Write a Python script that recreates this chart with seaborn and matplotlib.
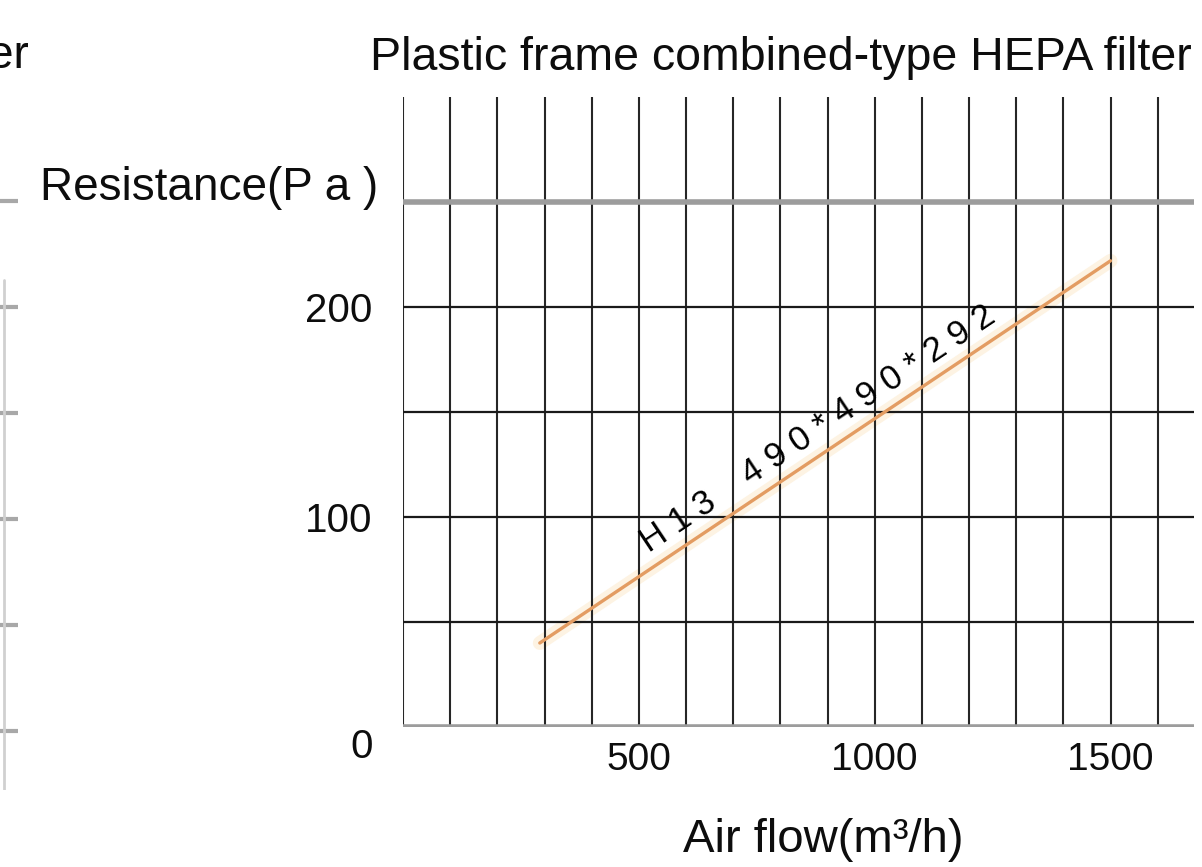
import matplotlib

matplotlib.use("Agg")

import matplotlib.pyplot as plt
import matplotlib.transforms as mtransforms
import pandas as pd
import seaborn as sns

# values
air_flow = [290, 1500]        # m3/h
resistance = [40, 222]        # Pa
curve_label = "H 1 3    4 9 0 * 4 9 0 * 2 9 2"
title = "Plastic frame combined-type HEPA filter"
x_ticks = [500, 1000, 1500]
y_ticks = [0, 100, 200]
x_grid = list(range(0, 1700, 100))
y_grid = [50, 100, 150, 200]
y_grid_heavy = [0, 250]
left_grid = [0, 50, 100, 150, 200, 250]   # fragment of the neighbouring chart

sns.set_theme(style="white")
plt.rcParams["font.family"] = ["Liberation Sans", "DejaVu Sans"]

W, H = 1202, 867
fig = plt.figure(figsize=(W / 100, H / 100), dpi=100)


def box(x0, y0, x1, y1):
    # pixel box (top-left origin) -> figure fraction rect
    return [x0 / W, 1 - y1 / H, (x1 - x0) / W, (y1 - y0) / H]


ax = fig.add_axes(box(403, 97, 1194, 727))
ax.set_xlim(0, 1677)
ax.set_ylim(0, 300)
for s in ax.spines.values():
    s.set_visible(False)

# grid
ax.vlines(x_grid, 0, 300, color="#262626", lw=1.5, zorder=2)
ax.hlines(y_grid, 0, 1677, color="#1a1a1a", lw=1.6, zorder=2)
ax.hlines(y_grid_heavy, 0, 1677, color="#9c9c9c", lw=4, zorder=2)

# curve (with the faint halo of the scan)
df = pd.DataFrame({"air_flow": air_flow, "resistance": resistance})
sns.lineplot(data=df, x="air_flow", y="resistance", ax=ax,
             color="#fdf0dc", lw=10, alpha=0.8, zorder=1.5)
sns.lineplot(data=df, x="air_flow", y="resistance", ax=ax,
             color="#e39c62", lw=2.4, zorder=3)

ax.text(880, 142, curve_label, rotation=33.7, rotation_mode="anchor",
        ha="center", va="center", fontsize=25, color="#000000", zorder=4)

ax.set_xticks(x_ticks)
ax.set_xticklabels([str(v) for v in x_ticks])
ax.set_yticks(y_ticks)
ax.set_yticklabels([str(v) for v in y_ticks])
ax.tick_params(axis="x", length=0, pad=11, labelsize=28, colors="#0d0d0d")
ax.tick_params(axis="y", length=0, pad=22, labelsize=29, colors="#0d0d0d")
ax.set_xlabel("")
ax.set_ylabel("")
# the "0" sits a bit below its line
zero = ax.get_yticklabels()[0]
zero.set_transform(zero.get_transform()
                   + mtransforms.ScaledTranslation(0, -0.16, fig.dpi_scale_trans))

fig.text(781 / W, 1 - 58 / H, title, ha="center", va="center",
         fontsize=33.5, color="#0d0d0d")
fig.text(378 / W, 1 - 188 / H, "Resistance(P a )", ha="right", va="center",
         fontsize=33, color="#0d0d0d")
fig.text(823 / W, 1 - 840 / H, "Air flow(m³/h)", ha="center", va="center",
         fontsize=34, color="#0d0d0d")

# cut-off neighbouring chart on the left edge (only the tail of its title shows)
fig.text(-12 / W, 1 - 56 / H, "er", ha="left", va="center",
         fontsize=33, color="#0d0d0d")
axl = fig.add_axes(box(0, 190, 20, 790))
axl.set_xlim(0, 20)
axl.set_ylim(-28, 255)
axl.axis("off")
axl.hlines(left_grid, 0, 18, color="#a8a8a8", lw=3)
axl.axvline(4, ymax=0.85, color="#d0d0d0", lw=2)

fig.savefig("out.png", dpi=100)
